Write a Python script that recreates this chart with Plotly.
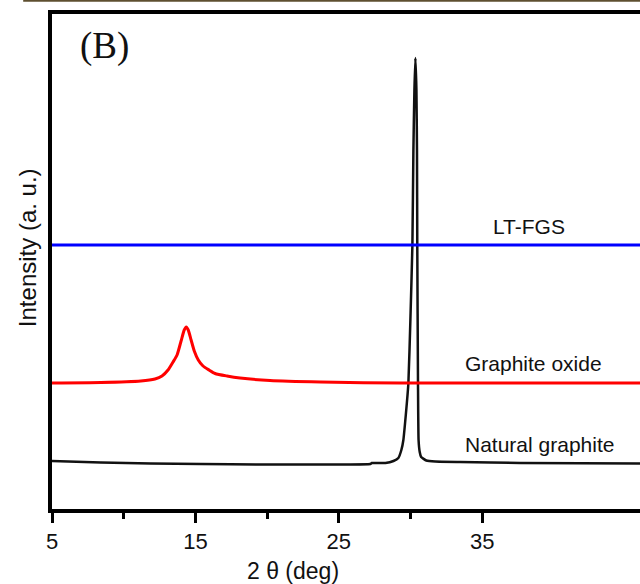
import plotly.graph_objects as go

# ---- data ----
two_theta_lt = [5.0, 12.0, 20.0, 28.0, 36.0, 46.0]
int_lt = [267.0, 267.0, 267.5, 267.0, 267.0, 267.0]

two_theta_go = [5.0, 8.41, 11.19, 12.18, 12.67, 13.09, 13.44, 13.72, 14.0, 14.22, 14.36,
                14.5, 14.7, 14.92, 15.2, 15.53, 15.95, 16.37, 17.2, 18.11, 20.2, 23.73, 29.3, 46.0]
int_go = [129.0, 129.5, 131.0, 133.0, 136.0, 142.0, 150.0, 157.0, 171.0, 182.0, 185.0,
          182.0, 172.0, 161.0, 152.0, 146.0, 142.0, 138.5, 136.0, 134.0, 131.5, 130.0, 129.0, 129.0]

two_theta_ng = [5.0, 8.41, 11.89, 15.37, 19.55, 22.33, 25.12, 27.2, 27.3, 28.25, 28.81,
                29.15, 29.36, 29.5, 29.67, 29.85, 29.99, 30.13, 30.2, 30.27, 30.34,
                30.41, 30.45, 30.47, 30.52, 30.56, 30.64, 30.74, 31.1, 31.73, 33.47, 37.65, 46.0]
int_ng = [51.0, 49.5, 48.5, 48.0, 47.5, 47.5, 47.5, 48.0, 49.0, 49.0, 51.0,
          54.0, 62.0, 72.0, 97.0, 129.0, 192.0, 267.0, 362.0, 422.0, 454.0,
          422.0, 362.0, 267.0, 129.0, 72.0, 60.0, 55.0, 51.5, 50.5, 50.0, 49.0, 48.5]

labels = ["LT-FGS", "Graphite oxide", "Natural graphite"]
label_x = [38.26, 38.58, 39.0]
label_y = [286.0, 149.0, 68.0]

major_ticks = [5, 15, 25, 35]
minor_ticks = [10, 20, 30]

fig = go.Figure()
fig.add_trace(go.Scatter(x=two_theta_ng, y=int_ng, mode="lines",
                         line=dict(color="#111111", width=2.5, shape="spline", smoothing=0.4)))
fig.add_trace(go.Scatter(x=two_theta_go, y=int_go, mode="lines",
                         line=dict(color="#ff0000", width=3, shape="spline", smoothing=0.6)))
fig.add_trace(go.Scatter(x=two_theta_lt, y=int_lt, mode="lines",
                         line=dict(color="#0000ff", width=3)))

for t, xx, yy in zip(labels, label_x, label_y):
    fig.add_annotation(x=xx, y=yy, text=t, showarrow=False, xanchor="center", yanchor="middle",
                       font=dict(family="Liberation Sans, Arial", size=21, color="#111111"))

fig.add_annotation(xref="paper", yref="paper", x=0.09, y=0.935, text="(B)", showarrow=False,
                   xanchor="center", yanchor="middle",
                   font=dict(family="Liberation Serif, Times New Roman", size=37, color="#111111"))
fig.add_annotation(xref="paper", yref="paper", x=0.41, y=-0.125, text="2 \u03b8 (deg)", showarrow=False,
                   xanchor="center", yanchor="middle",
                   font=dict(family="Liberation Sans, Arial", size=23, color="#111111"))
fig.add_annotation(xref="paper", yref="paper", x=-0.0425, y=0.527, text="Intensity (a. u.)",
                   showarrow=False, textangle=-90, xanchor="center", yanchor="middle",
                   font=dict(family="Liberation Sans, Arial", size=24, color="#111111"))

# page artefact line at very top
fig.add_shape(type="line", xref="paper", yref="paper", x0=-0.049, x1=1.0, y0=1.027, y1=1.027,
              line=dict(color="#5e4f30", width=2))

fig.update_layout(
    width=640, height=584,
    margin=dict(l=52, r=0, t=14, b=75),
    paper_bgcolor="white", plot_bgcolor="white",
    showlegend=False,
    xaxis=dict(range=[5, 46], showgrid=False, zeroline=False,
               showline=True, linecolor="black", linewidth=3.5, mirror=True,
               tickmode="array", tickvals=major_ticks, ticktext=[str(v) for v in major_ticks],
               ticks="outside", ticklen=10, tickwidth=3, tickcolor="black",
               tickfont=dict(family="Liberation Sans, Arial", size=22, color="#111111"),
               minor=dict(tickmode="array", tickvals=minor_ticks, ticks="outside",
                          ticklen=6, tickwidth=3, tickcolor="black", showgrid=False)),
    yaxis=dict(range=[3, 498], showgrid=False, zeroline=False,
               showline=True, linecolor="black", linewidth=3.5, mirror=False,
               showticklabels=False, ticks=""),
)

fig.write_html("out.html")
